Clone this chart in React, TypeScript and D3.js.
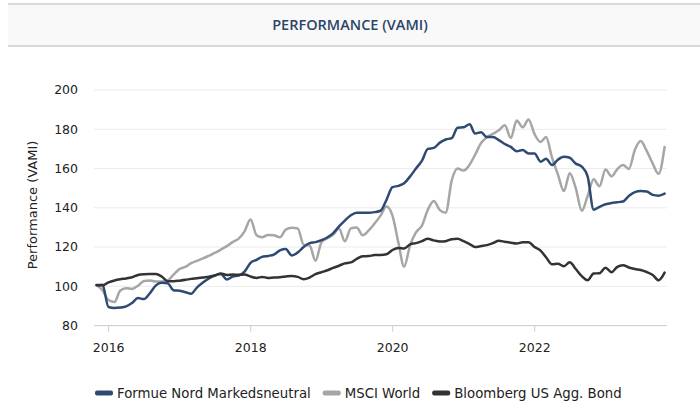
import React from 'react';
import * as d3 from 'd3';

// monthly closes, end of Oct 2015 -> end of Oct 2023
const formueNord = [
  100.5, 100.8, 89.5, 89, 89.2, 89.8, 91.5, 94, 93.5, 96.5, 100.5, 101.8, 101.5,
  98, 97.7, 97, 96.2, 99.5, 102, 104, 105.5, 106.3, 103.5, 105, 105.5,
  107.5, 112, 113.5, 115, 115.5, 116.2, 118.3, 119, 115.7, 117.3, 120, 122,
  122.5, 123.5, 125, 127, 130.5, 133.5, 136.2, 137.5, 137.5, 137.5, 137.8, 138.5,
  144, 150.5, 151.2, 152.5, 156, 160, 164, 170, 170.5, 173.2, 174.8, 175.5,
  180.8, 181, 182.5, 177.8, 178.5, 176, 176, 174.5, 172.5, 171, 168.8, 169.4,
  167.7, 167.7, 163.5, 165, 161.8, 164.5, 166, 165.5, 162.5, 161, 156, 139,
  140.5, 141.8, 142.5, 142.8, 143.2, 146, 148, 148.5, 148.3, 146.6, 146.2, 147.2,
];

const msciWorld = [
  100.7, 98, 93, 92, 97.8, 99, 98.7, 100.3, 102.7, 103, 102.5, 102.5, 103,
  106, 108.8, 110, 111.8, 113, 114.2, 115.6, 117, 118.7, 120.5, 122.5, 124.3,
  128, 134, 126, 125, 126.2, 126, 125, 128.9, 129.8, 129.5, 121.2, 120.8,
  113, 122.5, 124.5, 126.2, 129.5, 123, 129.5, 130, 126, 128.5, 132, 136,
  140.6, 136, 122, 110, 121, 127.5, 131, 139, 143.5, 138.8, 137.5, 154,
  160, 159, 162, 167, 173, 176, 177.7, 179.5, 182, 175.5, 184.5, 181,
  185, 177.5, 173.5, 176, 165.5, 157, 148.5, 157.6, 150, 138.5, 146, 154.5,
  151, 159.5, 156, 159.5, 161.8, 159.8, 169.5, 174, 169, 162.5, 157.3, 171,
];

const usAggBond = [
  100.7, 100.5, 102, 103, 103.6, 104, 104.6, 105.8, 106.2, 106.3, 106.3, 105, 102.6,
  102.6, 102.9, 103.3, 103.8, 104.1, 104.5, 104.9, 105.5, 106.5, 105.8, 106, 105.9,
  106, 105, 104.3, 104.8, 104.3, 104.5, 104.6, 105, 105.3, 104.8, 103.6, 104.5,
  106.2, 107.2, 108.2, 109.4, 110.5, 111.7, 112.2, 114, 115.3, 115.4, 115.9, 115.9,
  116.3, 118.5, 119.5, 119.3, 121.4, 122, 123, 124.2, 123.4, 122.8, 123, 124,
  124.2, 123, 121.5, 120, 120.5, 121, 122, 123.2, 122.7, 122.2, 121.8, 122.5,
  122.5, 120, 118.2, 114.8, 111.2, 111.5, 110.2, 112.3, 108.8, 105.2, 103.1, 106.5,
  106.7, 109.5, 107.2, 109.8, 110.8, 109.6, 108.8, 108.3, 107.3, 105.8, 103.1, 107,
];

const seriesNames = ['Formue Nord Markedsneutral', 'MSCI World', 'Bloomberg US Agg. Bond'];
const seriesColors = ['#2e4a74', '#a6a6a6', '#333333'];
const yTicks = [80, 100, 120, 140, 160, 180, 200];
const xTickYears = [2016, 2018, 2020, 2022];

// month-end dates for the x axis
const firstMonth = new Date(Date.UTC(2015, 10, 1));
const dates = formueNord.map((_, i) => new Date(d3.utcMonth.offset(firstMonth, i).getTime() - 86400000));

const W = 700;
const H = 403;
const plotLeft = 94;
const plotRight = 667;

const numFont = 'Verdana, "DejaVu Sans", sans-serif';
const legendFont = 13.3;

function textWidth(s: string, size: number) {
  const ctx = document.createElement('canvas').getContext('2d');
  if (!ctx) return s.length * 0.6 * size;
  ctx.font = `${size}px Verdana, "DejaVu Sans", sans-serif`;
  return ctx.measureText(s).width;
}

export default function App() {
  const x = d3.scaleUtc()
    .domain([dates[0], dates[dates.length - 1]])
    .range([96.6, 664.6]);
  const y = d3.scaleLinear().domain([80, 200]).range([325.6, 90]);

  const line = d3.line<number>()
    .x((_, i) => x(dates[i]))
    .y(d => y(d))
    .curve(d3.curveMonotoneX);

  const allSeries = [formueNord, msciWorld, usAggBond];

  // legend: swatch 18, gap 4, text, then 12 to the next item
  let lx = 95;
  const legendX = seriesNames.map(n => {
    const p = lx;
    lx += 18 + 4 + textWidth(n, legendFont) + 12;
    return p;
  });

  return (
    <svg width={W} height={H} style={{ position: 'absolute', left: 0, top: 0 }}>
      <rect x={0} y={0} width={W} height={H} fill="#ffffff" />

      {/* title band */}
      <rect x={8} y={4} width={W - 8} height={42} fill="#f9f9f9" />
      <line x1={8} x2={W} y1={4} y2={4} stroke="#d9d9d9" strokeWidth={2} />
      <line x1={8} x2={W} y1={46} y2={46} stroke="#d9d9d9" strokeWidth={2} />
      <text x={350} y={30} textAnchor="middle" fill="#2b4468"
        style={{ fontFamily: '"Open Sans", sans-serif', fontSize: 14.5, fontWeight: 600 }}>
        PERFORMANCE (VAMI)
      </text>

      {/* grid */}
      {yTicks.map(t => (
        <g key={t}>
          <line x1={plotLeft} x2={plotRight} y1={y(t)} y2={y(t)}
            stroke={t === 80 ? '#cccccc' : '#ebebeb'} strokeWidth={1} />
          <text x={78} y={y(t)} dy="0.35em" textAnchor="end" fill="#222"
            style={{ fontFamily: numFont, fontSize: 12.5 }}>{t}</text>
        </g>
      ))}

      {xTickYears.map(yr => {
        const px = x(new Date(Date.UTC(yr, 0, 1)));
        return (
          <g key={yr}>
            <line x1={px} x2={px} y1={y(80)} y2={y(80) + 6} stroke="#cccccc" />
            <text x={px} y={352} textAnchor="middle" fill="#222"
              style={{ fontFamily: numFont, fontSize: 12.5 }}>{yr}</text>
          </g>
        );
      })}

      <text transform={`translate(37,${205}) rotate(-90)`} textAnchor="middle" fill="#222"
        style={{ fontFamily: numFont, fontSize: 13 }}>Performance (VAMI)</text>

      {/* lines, bond drawn last */}
      {[1, 0, 2].map(i => (
        <path key={i} d={line(allSeries[i]) ?? ''} fill="none"
          stroke={seriesColors[i]} strokeWidth={2.5} strokeLinejoin="round" strokeLinecap="round" />
      ))}

      {/* legend */}
      {seriesNames.map((n, i) => (
        <g key={n} transform={`translate(${legendX[i]},393)`}>
          <rect x={0} y={-2.5} width={18} height={5} rx={2} fill={seriesColors[i]} />
          <text x={22} y={0} dy="0.35em" fill="#222"
            style={{ fontFamily: numFont, fontSize: legendFont }}>{n}</text>
        </g>
      ))}
    </svg>
  );
}
